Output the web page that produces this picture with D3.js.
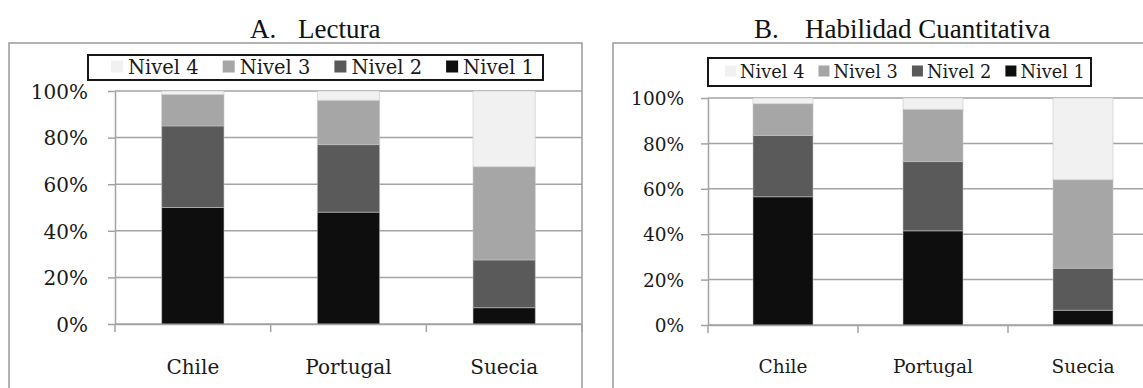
<!DOCTYPE html>
<html>
<head>
<meta charset="utf-8">
<script src="https://cdn.jsdelivr.net/npm/d3@7"></script>
<style>
  html, body { margin: 0; padding: 0; background: #fff; }
  svg { display: block; }
</style>
</head>
<body>
<svg id="chart" width="1143" height="388"></svg>
<script>
// Countries and performance levels
const countries = ["Chile", "Portugal", "Suecia"];
const levels = ["Nivel 1", "Nivel 2", "Nivel 3", "Nivel 4"];
const legendOrder = ["Nivel 4", "Nivel 3", "Nivel 2", "Nivel 1"];
const levelColors = ["#0e0e0e", "#5a5a5a", "#a6a6a6", "#f1f1f1"];

// A. Lectura: share of students per level (%)
const lecturaNivel1 = [50, 48, 7];
const lecturaNivel2 = [35, 29, 20.5];
const lecturaNivel3 = [13.5, 19, 40];
const lecturaNivel4 = [1.5, 4, 32.5];

// B. Habilidad Cuantitativa: share of students per level (%)
const cuantNivel1 = [56.5, 41.5, 6.5];
const cuantNivel2 = [27, 30.5, 18.5];
const cuantNivel3 = [14, 23, 39];
const cuantNivel4 = [2.5, 5, 36];

const yTickValues = [0, 20, 40, 60, 80, 100];

function buildRows(n1, n2, n3, n4) {
  return countries.map((c, i) => ({
    country: c,
    "Nivel 1": n1[i], "Nivel 2": n2[i], "Nivel 3": n3[i], "Nivel 4": n4[i]
  }));
}

const panels = [
  {
    letter: "A.", title: "Lectura",
    rows: buildRows(lecturaNivel1, lecturaNivel2, lecturaNivel3, lecturaNivel4),
    frame: { x: 9, y: 43, w: 573, h: 360 },
    plot: { left: 115, right: 582, top: 91, bottom: 324 },
    legend: { x: 88, y: 55, w: 455, h: 25, start: 111, font: 19.5, sw: 12, gap: 5, itemGap: 24 },
    titlePos: { x: 250, x2: 298, y: 38 },
    tickFont: 20, labelEnd: 88, catY: 374
  },
  {
    letter: "B.", title: "Habilidad Cuantitativa",
    rows: buildRows(cuantNivel1, cuantNivel2, cuantNivel3, cuantNivel4),
    frame: { x: 613, y: 43, w: 560, h: 360 },
    plot: { left: 708, right: 1158, top: 98, bottom: 325 },
    legend: { x: 708, y: 58, w: 383, h: 28, start: 725, font: 17.8, sw: 11, gap: 4, itemGap: 14 },
    titlePos: { x: 754, x2: 805, y: 38 },
    tickFont: 18.5, labelEnd: 684, catY: 373
  }
];

const svg = d3.select("#chart");
const serif = "'DejaVu Serif', serif";
const titleFont = "'Liberation Serif', 'Times New Roman', serif";
const gridColor = "#a3a3a3";

const stack = d3.stack().keys(levels);

panels.forEach(p => {
  const g = svg.append("g");

  // Outer frame of the chart object
  g.append("rect")
    .attr("x", p.frame.x).attr("y", p.frame.y)
    .attr("width", p.frame.w).attr("height", p.frame.h)
    .attr("fill", "none").attr("stroke", "#9a9a9a").attr("stroke-width", 1.5);

  // Title above the frame
  g.append("text")
    .attr("x", p.titlePos.x).attr("y", p.titlePos.y)
    .attr("font-family", titleFont)
    .attr("font-size", 27).attr("fill", "#111")
    .text(p.letter);
  g.append("text")
    .attr("x", p.titlePos.x2).attr("y", p.titlePos.y)
    .attr("font-family", titleFont)
    .attr("font-size", 27).attr("fill", "#111")
    .text(p.title);

  const x = d3.scaleBand()
    .domain(countries)
    .range([p.plot.left, p.plot.right])
    .paddingInner(0.6)
    .paddingOuter(0.3);

  const y = d3.scaleLinear()
    .domain([0, 100])
    .range([p.plot.bottom, p.plot.top]);

  // Horizontal gridlines
  g.append("g").selectAll("line")
    .data(yTickValues)
    .join("line")
    .attr("x1", p.plot.left).attr("x2", p.plot.right)
    .attr("y1", d => y(d)).attr("y2", d => y(d))
    .attr("stroke", gridColor).attr("stroke-width", 1.5);

  // Stacked bars
  const series = stack(p.rows);
  g.append("g").selectAll("g")
    .data(series)
    .join("g")
    .attr("fill", (d, i) => levelColors[i])
    .selectAll("rect")
    .data(d => d)
    .join("rect")
    .attr("x", d => x(d.data.country))
    .attr("width", x.bandwidth())
    .attr("y", d => y(d[1]))
    .attr("height", d => y(d[0]) - y(d[1]))
    .attr("stroke", "#c4c4c4")
    .attr("stroke-opacity", 0.55)
    .attr("stroke-width", 1);

  // Y axis with outside ticks
  const yAxis = d3.axisLeft(y)
    .tickValues(yTickValues)
    .tickFormat(d => d + "%")
    .tickSize(7)
    .tickSizeOuter(0)
    .tickPadding(p.plot.left - 7 - p.labelEnd);
  const ya = g.append("g")
    .attr("transform", `translate(${p.plot.left},0)`)
    .call(yAxis);
  ya.select(".domain").attr("stroke", gridColor).attr("stroke-width", 1.5);
  ya.selectAll(".tick line").attr("stroke", gridColor).attr("stroke-width", 1.5);
  ya.selectAll(".tick text")
    .attr("font-family", serif).attr("font-size", p.tickFont)
    .attr("fill", "#1a1a1a").attr("dy", "0.36em");

  // Category axis: labels at band centres, ticks at band boundaries
  const xAxis = d3.axisBottom(x).tickSize(0).tickSizeOuter(0);
  const xa = g.append("g")
    .attr("transform", `translate(0,${p.plot.bottom})`)
    .call(xAxis);
  xa.select(".domain").attr("stroke", gridColor).attr("stroke-width", 1.5);
  xa.selectAll(".tick text")
    .attr("font-family", serif).attr("font-size", p.tickFont)
    .attr("fill", "#1a1a1a")
    .attr("y", p.catY - p.plot.bottom).attr("dy", 0);

  const boundaries = d3.range(countries.length + 1).map(i => p.plot.left + i * x.step());
  g.append("g").selectAll("line")
    .data(boundaries)
    .join("line")
    .attr("x1", d => d).attr("x2", d => d)
    .attr("y1", p.plot.bottom).attr("y2", p.plot.bottom + 8)
    .attr("stroke", gridColor).attr("stroke-width", 1.5);

  // Legend box
  const L = p.legend;
  const lg = g.append("g");
  lg.append("rect")
    .attr("x", L.x).attr("y", L.y).attr("width", L.w).attr("height", L.h)
    .attr("fill", "#fff").attr("stroke", "#161616").attr("stroke-width", 2);
  let cx = L.start;
  legendOrder.forEach(name => {
    const idx = levels.indexOf(name);
    const cy = L.y + L.h / 2;
    lg.append("rect")
      .attr("x", cx).attr("y", cy - L.sw / 2 - 1)
      .attr("width", L.sw).attr("height", L.sw)
      .attr("fill", levelColors[idx]);
    const t = lg.append("text")
      .attr("x", cx + L.sw + L.gap).attr("y", cy)
      .attr("dy", "0.35em")
      .attr("font-family", serif).attr("font-size", L.font)
      .attr("fill", "#1a1a1a")
      .text(name);
    cx += L.sw + L.gap + t.node().getComputedTextLength() + L.itemGap;
  });
});
</script>
</body>
</html>
